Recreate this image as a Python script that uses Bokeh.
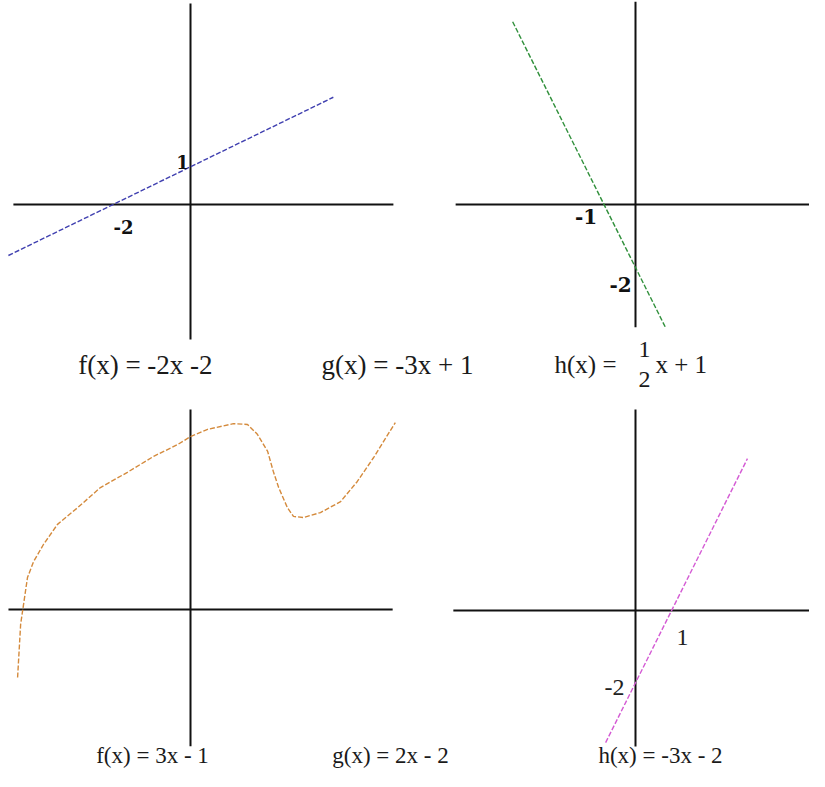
from bokeh.plotting import figure
from bokeh.models import Range1d
from bokeh.embed import file_html
from bokeh.resources import INLINE
from bokeh.core.properties import value

# ---------------- data (math units) ----------------
# top-left panel: blue dashed line
blue_x = [-4.73, 3.71]
blue_y = [-1.36, 2.86]
tl_axis_x = [-4.6, 5.27]
tl_axis_y = [-3.6, 5.36]
tl_lbl_text = ["1", "-2"]
tl_lbl_x = [0, -2]
tl_lbl_y = [1, 0]

# top-right panel: green dashed line
green_x = [-3.9, 0.95]
green_y = [5.8, -3.9]
tr_axis_x = [-5.71, 6.03]
tr_axis_y = [-3.9, 6.44]
tr_lbl_text = ["-1", "-2"]
tr_lbl_x = [-1, 0]
tr_lbl_y = [0, -2]

# bottom-left panel: orange dashed curve
orange_x = [-4.55, -4.47, -4.29, -4.13, -3.87, -3.50, -2.97, -2.37, -1.66, -0.97,
            -0.34, 0.0, 0.45, 1.13, 1.50, 1.76, 2.03, 2.18, 2.32, 2.55,
            2.71, 2.97, 3.42, 3.95, 4.39, 4.82, 5.39]
orange_y = [-1.79, -0.39, 0.84, 1.26, 1.71, 2.24, 2.68, 3.21, 3.61, 4.03,
            4.34, 4.55, 4.74, 4.89, 4.87, 4.61, 4.16, 3.63, 3.21, 2.68,
            2.45, 2.42, 2.55, 2.84, 3.37, 4.00, 4.92]
bl_axis_x = [-4.79, 5.32]
bl_axis_y = [-3.6, 5.26]

# bottom-right panel: magenta dashed line
magenta_x = [-0.83, 3.11]
magenta_y = [-3.67, 4.22]
br_axis_x = [-5.06, 5.28]
br_axis_y = [-3.78, 5.58]
br_lbl_text = ["1", "-2"]
br_lbl_x = [1, 0]
br_lbl_y = [0, -2]

# captions
top_captions = ["f(x)  =  -2x  -2", "g(x) = -3x + 1"]
bottom_captions = ["f(x) = 3x - 1", "g(x) = 2x - 2", "h(x) = -3x - 2"]
frac_caption = ["h(x) =", "1", "2", "x + 1"]

# ---------------- layout (pixel coordinates of the reference) ----------------
X0, X1 = 0, 809      # visible reference x-window
Y0, Y1 = 6, 777      # visible reference y-window
PANELS = {           # origin x, origin y, px per unit x, px per unit y
    "tl": (190, 210, 38.5, 37.5),
    "tr": (635, 210, 31.5, 31.5),
    "bl": (190, 615, 38.0, 38.0),
    "br": (635, 616, 36.0, 36.0),
}

p = figure(width=809, height=771, output_backend="svg", toolbar_location=None,
           x_range=Range1d(X0, X1), y_range=Range1d(Y1, Y0),
           x_axis_location=None, y_axis_location=None, min_border=0)
p.grid.visible = False
p.outline_line_color = None
p.background_fill_color = "white"
p.border_fill_color = "white"

for name, (ox, oy, sx, sy) in PANELS.items():
    p.extra_x_ranges[name] = Range1d((X0 - ox) / sx, (X1 - ox) / sx)
    p.extra_y_ranges[name] = Range1d((oy - Y1) / sy, (oy - Y0) / sy)

AX = dict(line_color="#111111", line_width=2)
for name, ax_x, ax_y in [("tl", tl_axis_x, tl_axis_y), ("tr", tr_axis_x, tr_axis_y),
                         ("bl", bl_axis_x, bl_axis_y), ("br", br_axis_x, br_axis_y)]:
    p.line(ax_x, [0, 0], x_range_name=name, y_range_name=name, **AX)
    p.line([0, 0], ax_y, x_range_name=name, y_range_name=name, **AX)

DASH = dict(line_width=1.4, line_dash="5 2")
p.line(blue_x, blue_y, x_range_name="tl", y_range_name="tl", line_color="#4040b0", **DASH)
p.line(green_x, green_y, x_range_name="tr", y_range_name="tr", line_color="#2f8f3a", **DASH)
p.line(orange_x, orange_y, x_range_name="bl", y_range_name="bl", line_color="#d48a3c", **DASH)
p.line(magenta_x, magenta_y, x_range_name="br", y_range_name="br", line_color="#d45ad4", **DASH)

SERIF = value("Liberation Serif")
BOLD = value("DejaVu Serif")

# axis labels
p.text(tl_lbl_x, tl_lbl_y, text=tl_lbl_text, x_range_name="tl", y_range_name="tl",
       x_offset=[-8, 10], y_offset=[-5, 22], text_font=BOLD, text_font_style="bold",
       text_font_size="18px", text_align="center", text_baseline="middle", text_color="#111")
p.text(tr_lbl_x, tr_lbl_y, text=tr_lbl_text, x_range_name="tr", y_range_name="tr",
       x_offset=[-18, -15], y_offset=[12, 17], text_font=BOLD, text_font_style="bold",
       text_font_size="20px", text_align="center", text_baseline="middle", text_color="#111")
p.text(br_lbl_x, br_lbl_y, text=br_lbl_text, x_range_name="br", y_range_name="br",
       x_offset=[11, -21], y_offset=[27, 5], text_font=SERIF,
       text_font_size="24px", text_align="center", text_baseline="middle", text_color="#222")

# captions (reference pixel coordinates)
p.text([155, 397], [370, 370], text=top_captions, text_font=SERIF, text_font_size="27px",
       text_align="center", text_baseline="middle", text_color="#1a1a1a")
p.text([152, 390, 660], [761, 761, 761], text=bottom_captions, text_font=SERIF,
       text_font_size="23px", text_align="center", text_baseline="middle", text_color="#1a1a1a")
p.text([616, 644, 644, 655], [370, 355, 385, 370], text=frac_caption, text_font=SERIF,
       text_font_size=["25px", "24px", "24px", "25px"],
       text_align=["right", "center", "center", "left"],
       text_baseline="middle", text_color="#1a1a1a")

open("out.html", "w").write(file_html(p, INLINE))
